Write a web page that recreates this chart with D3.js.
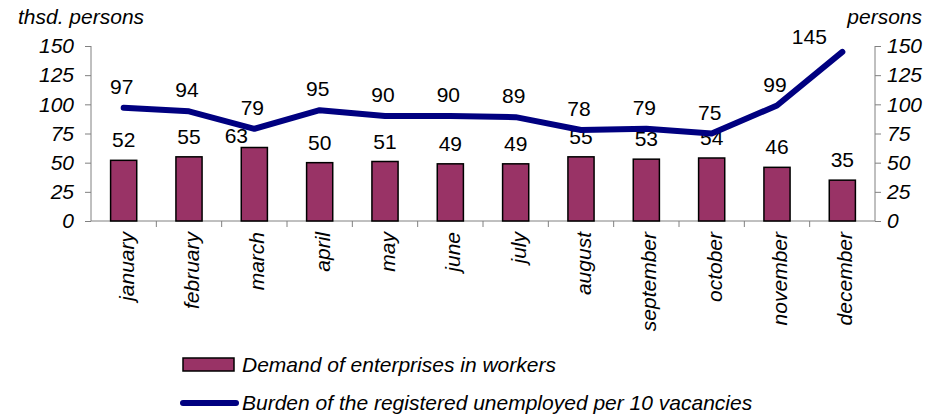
<!DOCTYPE html>
<html><head><meta charset="utf-8">
<script src="https://cdn.jsdelivr.net/npm/d3@7"></script>
<style>body{margin:0;background:#fff}svg{display:block}text{font-family:"Liberation Sans",Arial,sans-serif}</style>
</head><body><div id="chart"></div>
<script>
const months = ["january","february","march","april","may","june","july","august","september","october","november","december"];
const demand = [52,55,63,50,51,49,49,55,53,54,46,35];
const burden = [97,94,79,95,90,90,89,78,79,75,99,145];
const yTicks = [0,25,50,75,100,125,150];
const leftTitle = "thsd. persons";
const rightTitle = "persons";
const legendLabels = ["Demand of enterprises in workers","Burden of the registered unemployed per 10 vacancies"];

const W = 942, H = 416;
const svg = d3.select("#chart").append("svg").attr("width", W).attr("height", H);
const x0 = 91, x1 = 875, yTop = 46, yBot = 221;
const x = d3.scaleBand().domain(months).range([x0, x1]).paddingInner(0).paddingOuter(0);
const yL = d3.scaleLinear().domain([0,150]).range([yBot, yTop]);
const yR = d3.scaleLinear().domain([0,150]).range([yBot, yTop]);
const axisCol = "#808080";
const fs = 21;

// left axis
const gL = svg.append("g").attr("transform", `translate(${x0},0)`)
  .call(d3.axisLeft(yL).tickValues(yTicks).tickSize(6).tickPadding(8));
// right axis
const gR = svg.append("g").attr("transform", `translate(${x1},0)`)
  .call(d3.axisRight(yR).tickValues(yTicks).tickSize(6).tickPadding(8));
[gL, gR].forEach(g => {
  g.select(".domain").attr("stroke", axisCol).attr("d", `M0,${yTop}V${yBot}`);
  g.selectAll(".tick line").attr("stroke", axisCol);
  g.selectAll(".tick text").attr("fill", "#000").style("font-size", fs+"px").style("font-style","italic")
    .style("font-family", '"Liberation Sans",Arial,sans-serif');
});
gL.selectAll(".tick text").attr("x", -17);
gR.selectAll(".tick text").attr("x", 12);

// x axis
svg.append("line").attr("x1", x0).attr("x2", x1).attr("y1", yBot).attr("y2", yBot).attr("stroke", axisCol);
svg.selectAll(".xtick").data(months.slice(1)).enter().append("line")
  .attr("x1", d => x(d)).attr("x2", d => x(d)).attr("y1", yBot).attr("y2", yBot+6).attr("stroke", axisCol);
svg.selectAll(".xlab").data(months).enter().append("text")
  .attr("transform", d => `translate(${x(d)+x.bandwidth()/2+10},${yBot+11}) rotate(-90)`)
  .attr("text-anchor", "end").style("font-size", fs+"px").style("font-style","italic").text(d => d);

// bars
const bw = x.bandwidth()*0.4;
svg.selectAll(".bar").data(demand).enter().append("rect")
  .attr("x", (d,i) => x(months[i]) + x.bandwidth()/2 - bw/2)
  .attr("y", d => yL(d)).attr("width", bw).attr("height", d => yBot - yL(d))
  .attr("fill", "#993366").attr("stroke", "#000").attr("stroke-width", 1.5);
svg.selectAll(".blab").data(demand).enter().append("text")
  .attr("x", (d,i) => x(months[i]) + x.bandwidth()/2 + (i===2 ? -18 : 0))
  .attr("y", (d,i) => yL(d) - (i===2 ? 5 : 13)).attr("text-anchor","middle").style("font-size","21px").text(d => d);

// line
const line = d3.line().x((d,i) => x(months[i]) + x.bandwidth()/2).y(d => yR(d));
svg.append("path").datum(burden).attr("d", line).attr("fill","none")
  .attr("stroke","#000080").attr("stroke-width",6).attr("stroke-linecap","round").attr("stroke-linejoin","round");
svg.selectAll(".llab").data(burden).enter().append("text")
  .attr("x", (d,i) => x(months[i]) + x.bandwidth()/2 + (i===11 ? -33 : -2))
  .attr("y", (d,i) => yR(d) - (i===11 ? 8 : 14)).attr("text-anchor","middle").style("font-size","21px").text(d => d);

// titles
svg.append("text").attr("x", 18).attr("y", 24).style("font-size", fs+"px").style("font-style","italic").text(leftTitle);
svg.append("text").attr("x", 922).attr("y", 24).attr("text-anchor","end").style("font-size", fs+"px").style("font-style","italic").text(rightTitle);

// legend
svg.append("rect").attr("x",183).attr("y",358).attr("width",51).attr("height",13)
  .attr("fill","#993366").attr("stroke","#000").attr("stroke-width",1.5);
svg.append("text").attr("x",242).attr("y",372).style("font-size", fs+"px").style("font-style","italic").text(legendLabels[0]);
svg.append("line").attr("x1",183).attr("x2",236).attr("y1",403).attr("y2",403)
  .attr("stroke","#000080").attr("stroke-width",6).attr("stroke-linecap","round");
svg.append("text").attr("x",242).attr("y",410).style("font-size", fs+"px").style("font-style","italic").text(legendLabels[1]);
</script></body></html>
